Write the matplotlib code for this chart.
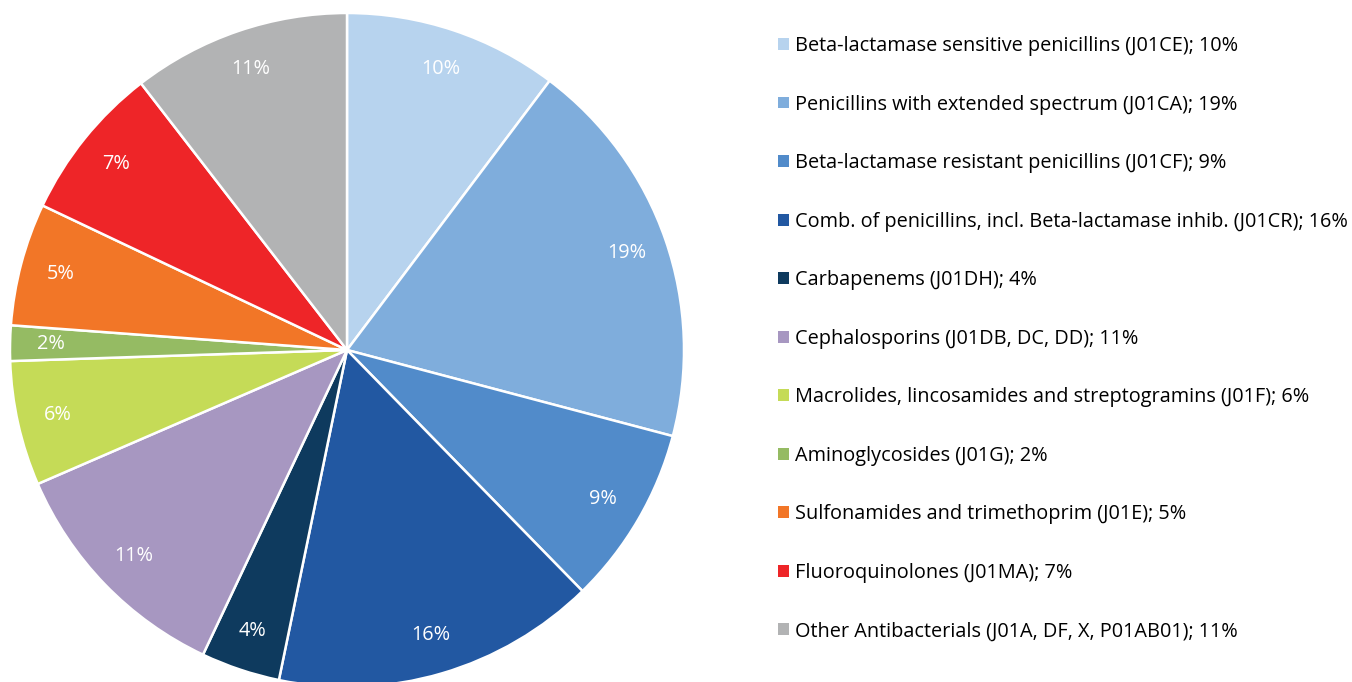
import matplotlib
matplotlib.use("Agg")
import matplotlib.pyplot as plt

categories = [
    "Beta-lactamase sensitive penicillins (J01CE); 10%",
    "Penicillins with extended spectrum (J01CA); 19%",
    "Beta-lactamase resistant penicillins (J01CF); 9%",
    "Comb. of penicillins, incl. Beta-lactamase inhib. (J01CR); 16%",
    "Carbapenems (J01DH); 4%",
    "Cephalosporins (J01DB, DC, DD); 11%",
    "Macrolides, lincosamides and streptogramins (J01F); 6%",
    "Aminoglycosides (J01G); 2%",
    "Sulfonamides and trimethoprim (J01E); 5%",
    "Fluoroquinolones (J01MA); 7%",
    "Other Antibacterials (J01A, DF, X, P01AB01); 11%",
]
values = [10.3, 18.9, 8.6, 15.6, 3.8, 11.5, 6.0, 1.7, 5.9, 7.5, 10.5]
pct_labels = ["10%", "19%", "9%", "16%", "4%", "11%", "6%", "2%", "5%", "7%", "11%"]
colors = ["#B7D3EE", "#7FADDC", "#518BCA", "#2258A2", "#0E3A5E", "#A797C1",
          "#C5DB57", "#95BB63", "#F27627", "#EE2528", "#B2B3B4"]

plt.rcParams['font.family'] = ['Open Sans', 'DejaVu Sans']

W, H = 1352, 682
fig = plt.figure(figsize=(W/100, H/100), dpi=100)
cx, cy, R = 347, 350, 337
ax = fig.add_axes([(cx-R)/W, (H-cy-R)/H, 2*R/W, 2*R/H])
wedges, texts = ax.pie(values, colors=colors, startangle=90, counterclock=False,
                       labels=pct_labels, labeldistance=0.88,
                       wedgeprops=dict(edgecolor="white", linewidth=1.8),
                       textprops=dict(color="white", fontsize=14.3, ha="center", va="center"))
for t in texts:
    t.set_ha("center"); t.set_va("center")
ax.set_xlim(-1, 1); ax.set_ylim(-1, 1)
ax.set_aspect("equal")
ax.axis("off")

leg = fig.legend(wedges, categories, loc="upper left",
                 bbox_to_anchor=(778/W, 1 - 36/H), frameon=False,
                 fontsize=14.3, handlelength=0.55, handleheight=0.55,
                 handletextpad=0.3, labelspacing=1.94, borderpad=0, borderaxespad=0)
for h in leg.legend_handles:
    h.set_edgecolor("none")
fig.savefig("out.png", dpi=100)
